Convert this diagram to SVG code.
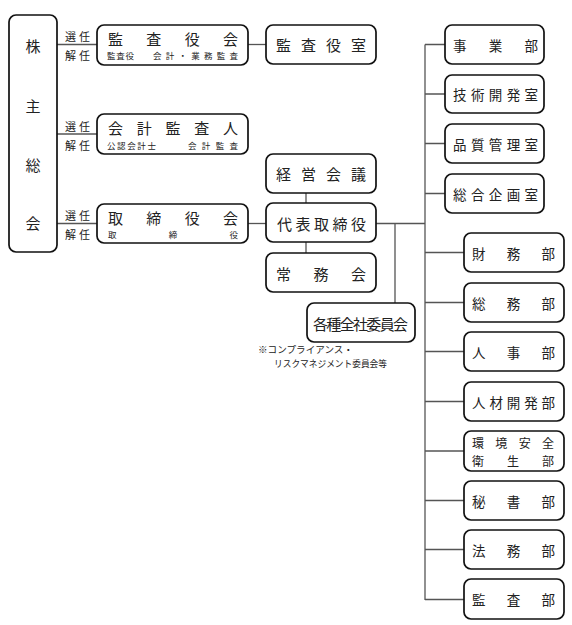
<svg xmlns="http://www.w3.org/2000/svg" width="572" height="625" viewBox="0 0 572 625">
<style>
.box{fill:#fff;stroke:#111;stroke-width:1.7}
.ln{stroke:#555;stroke-width:1.3;fill:none}
text{font-family:"Noto Sans CJK JP","Noto Sans CJK SC",sans-serif;fill:#222;dominant-baseline:central}
.m{font-size:15px}
.r{font-size:13.5px}
.r2{font-size:12px}
.s{font-size:8.5px}
.l{font-size:11px}
.n{font-size:9.5px}
</style>
<rect width="572" height="625" fill="#fff"/>
<g id="connectors">
<path class="ln" d="M57 44.5H97M57 134H97M57 223.5H97"/>
<path class="ln" d="M248 44.5H266"/>
<path class="ln" d="M248 223.5H266"/>
<path class="ln" d="M306 193V203M306 242V253"/>
<path class="ln" d="M376 223.5H425M395 223.5V303"/>
<path class="ln" d="M425 44.5V600"/>
<path class="ln" d="M425 44.5H445M425 94H445M425 143.5H445M425 193.5H445"/>
<path class="ln" d="M425 252.5H464M425 302.5H464M425 351.5H464M425 401.5H464M425 451H464M425 500.5H464M425 549.5H464M425 599.5H464"/>
</g>
<g id="shareholders">
<rect class="box" x="9" y="15" width="48" height="237" rx="7"/>
<text class="m" x="33" y="45" text-anchor="middle">株</text>
<text class="m" x="33" y="105" text-anchor="middle">主</text>
<text class="m" x="33" y="164" text-anchor="middle">総</text>
<text class="m" x="33" y="222" text-anchor="middle">会</text>
</g>
<g id="labels">
<text class="l" x="65" y="36" textLength="25" lengthAdjust="spacing">選任</text>
<text class="l" x="65" y="55" textLength="25" lengthAdjust="spacing">解任</text>
<text class="l" x="65" y="126" textLength="25" lengthAdjust="spacing">選任</text>
<text class="l" x="65" y="145" textLength="25" lengthAdjust="spacing">解任</text>
<text class="l" x="65" y="215" textLength="25" lengthAdjust="spacing">選任</text>
<text class="l" x="65" y="234" textLength="25" lengthAdjust="spacing">解任</text>
</g>
<g id="kansayakukai">
<rect class="box" x="97" y="25" width="151" height="40" rx="7"/>
<text class="m" x="108" y="38" textLength="130" lengthAdjust="spacing">監査役会</text>
<text class="s" x="107" y="55" textLength="27" lengthAdjust="spacing">監査役</text>
<text class="s" x="153" y="55" textLength="85" lengthAdjust="spacing">会計・業務監査</text>
</g>
<g id="kaikeikansanin">
<rect class="box" x="97" y="114" width="151" height="40" rx="7"/>
<text class="m" x="108" y="127.5" textLength="130" lengthAdjust="spacing">会計監査人</text>
<text class="s" x="107" y="145" textLength="49" lengthAdjust="spacing">公認会計士</text>
<text class="s" x="188" y="145" textLength="50" lengthAdjust="spacing">会計監査</text>
</g>
<g id="torishimariyakukai">
<rect class="box" x="97" y="204" width="151" height="39" rx="7"/>
<text class="m" x="108" y="217.5" textLength="130" lengthAdjust="spacing">取締役会</text>
<text class="s" x="108" y="234" textLength="130" lengthAdjust="spacing">取締役</text>
</g>
<g id="kansayakushitsu">
<rect class="box" x="266" y="25" width="110" height="39" rx="7"/>
<text class="m" x="276" y="44.5" textLength="90" lengthAdjust="spacing">監査役室</text>
</g>
<g id="keieikaigi">
<rect class="box" x="266" y="154" width="110" height="39" rx="7"/>
<text class="m" x="276" y="173.5" textLength="90" lengthAdjust="spacing">経営会議</text>
</g>
<g id="daihyo">
<rect class="box" x="266" y="203" width="110" height="39" rx="7"/>
<text class="m" x="277" y="223.5" textLength="89" lengthAdjust="spacing">代表取締役</text>
</g>
<g id="jomukai">
<rect class="box" x="266" y="253" width="110" height="39" rx="7"/>
<text class="m" x="276" y="273" textLength="90" lengthAdjust="spacing">常務会</text>
</g>
<g id="iinkai">
<rect class="box" x="307" y="303" width="108" height="39" rx="7"/>
<text class="m" x="313" y="323" textLength="95" lengthAdjust="spacing">各種全社委員会</text>
</g>
<g id="note">
<text class="n" x="258" y="349" textLength="95" lengthAdjust="spacingAndGlyphs">※コンプライアンス・</text>
<text class="n" x="274" y="363" textLength="113" lengthAdjust="spacingAndGlyphs">リスクマネジメント委員会等</text>
</g>
<g id="jigyobu">
<rect class="box" x="445" y="25" width="99" height="39" rx="7"/>
<text class="r" x="453" y="44.5" textLength="85" lengthAdjust="spacing">事業部</text>
</g>
<g id="gijutsu">
<rect class="box" x="445" y="75" width="99" height="38" rx="7"/>
<text class="r" x="453" y="94" textLength="85" lengthAdjust="spacing">技術開発室</text>
</g>
<g id="hinshitsu">
<rect class="box" x="445" y="124" width="99" height="39" rx="7"/>
<text class="r" x="453" y="143.5" textLength="85" lengthAdjust="spacing">品質管理室</text>
</g>
<g id="sogokikaku">
<rect class="box" x="445" y="174" width="99" height="39" rx="7"/>
<text class="r" x="453" y="193.5" textLength="85" lengthAdjust="spacing">総合企画室</text>
</g>
<g id="zaimu">
<rect class="box" x="464" y="233" width="100" height="39" rx="7"/>
<text class="r" x="472" y="252.5" textLength="83" lengthAdjust="spacing">財務部</text>
</g>
<g id="somu">
<rect class="box" x="464" y="283" width="100" height="39" rx="7"/>
<text class="r" x="472" y="302.5" textLength="83" lengthAdjust="spacing">総務部</text>
</g>
<g id="jinji">
<rect class="box" x="464" y="332" width="100" height="39" rx="7"/>
<text class="r" x="472" y="351.5" textLength="83" lengthAdjust="spacing">人事部</text>
</g>
<g id="jinzai">
<rect class="box" x="464" y="382" width="100" height="39" rx="7"/>
<text class="r" x="472" y="401.5" textLength="83" lengthAdjust="spacing">人材開発部</text>
</g>
<g id="kankyo">
<rect class="box" x="464" y="431" width="100" height="40" rx="7"/>
<text class="r2" x="472" y="442" textLength="82" lengthAdjust="spacing">環境安全</text>
<text class="r2" x="472" y="460" textLength="82" lengthAdjust="spacing">衛生部</text>
</g>
<g id="hisho">
<rect class="box" x="464" y="481" width="100" height="39" rx="7"/>
<text class="r" x="472" y="500.5" textLength="83" lengthAdjust="spacing">秘書部</text>
</g>
<g id="homu">
<rect class="box" x="464" y="530" width="100" height="39" rx="7"/>
<text class="r" x="472" y="549.5" textLength="83" lengthAdjust="spacing">法務部</text>
</g>
<g id="kansabu">
<rect class="box" x="464" y="579" width="100" height="40" rx="7"/>
<text class="r" x="472" y="599" textLength="83" lengthAdjust="spacing">監査部</text>
</g>
</svg>
